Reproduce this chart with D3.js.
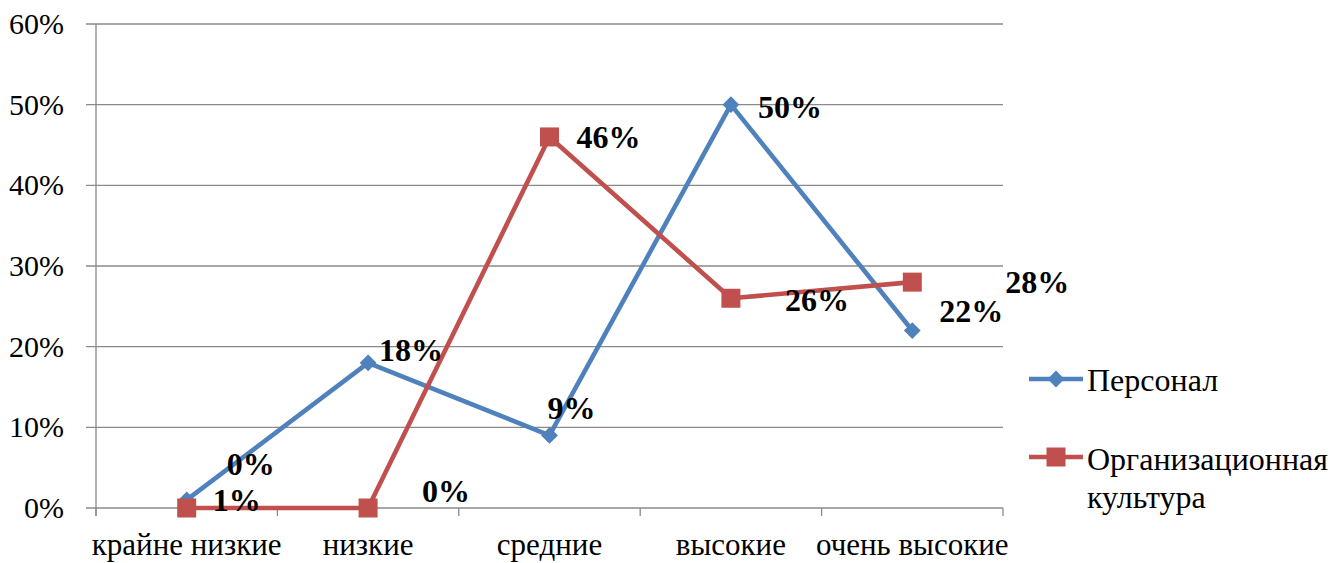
<!DOCTYPE html>
<html>
<head>
<meta charset="utf-8">
<script src="https://cdn.jsdelivr.net/npm/d3@7"></script>
</head>
<body style="margin:0; background:#fff">
<svg id="chart" width="1333" height="563" style="display:block"></svg>
<script>
// Categories and series values (percent)
const categories = ["крайне низкие", "низкие", "средние", "высокие", "очень высокие"];
const personnel = [1, 18, 9, 50, 22];
const culture = [0, 0, 46, 26, 28];
const seriesNames = ["Персонал", "Организационная культура"];
const yTicks = [0, 10, 20, 30, 40, 50, 60];

// Label nudges (dx, dy in px) relative to each point
const personnelLabelOffsets = [[26, 0], [11, -13], [-2, -27], [27, 2], [27, -20]];
const cultureLabelOffsets = [[40, -44], [54, -17], [27, 0], [54, 2], [93, 0]];

const colors = ["#4F81BD", "#C0504D"];
const svg = d3.select("#chart");
const m = { left: 96, right: 1003, top: 24, bottom: 508 };

const x = d3.scaleBand().domain(categories).range([m.left, m.right]);
const y = d3.scaleLinear().domain([0, 60]).range([m.bottom, m.top]);
const cx = d => x(d) + x.bandwidth() / 2;

// Shared text helper: serif face, given size and weight
function label(sel, size, weight) {
  return sel.style("font-family", '"Liberation Serif"')
    .style("font-size", size + "px")
    .style("font-weight", weight || "normal")
    .attr("fill", "#000");
}

// Horizontal gridlines
svg.append("g").selectAll("line").data(yTicks).join("line")
  .attr("x1", m.left - 10).attr("x2", m.right)
  .attr("y1", d => y(d)).attr("y2", d => y(d))
  .attr("stroke", "#8a8a8a").attr("stroke-width", 1.3);

// Y axis line
svg.append("line").attr("x1", m.left).attr("x2", m.left)
  .attr("y1", m.top).attr("y2", m.bottom + 8)
  .attr("stroke", "#8a8a8a").attr("stroke-width", 1.3);

// Y tick labels
label(svg.append("g").selectAll("text").data(yTicks).join("text")
  .attr("x", 64).attr("y", d => y(d) + 10)
  .attr("text-anchor", "end"), 30)
  .text(d => d + "%");

// X category boundary ticks
const bounds = categories.map(c => x(c)).concat([m.right]);
svg.append("g").selectAll("line").data(bounds).join("line")
  .attr("x1", d => d).attr("x2", d => d)
  .attr("y1", m.bottom).attr("y2", m.bottom + 8)
  .attr("stroke", "#8a8a8a").attr("stroke-width", 1.3);

// X category labels
label(svg.append("g").selectAll("text").data(categories).join("text")
  .attr("x", d => cx(d)).attr("y", 555)
  .attr("text-anchor", "middle"), 31)
  .text(d => d);

const line = d3.line().x((d, i) => cx(categories[i])).y(d => y(d));

function drawSeries(values, color, marker) {
  const g = svg.append("g");
  g.append("path").datum(values).attr("d", line)
    .attr("fill", "none").attr("stroke", color).attr("stroke-width", 4.6)
    .attr("stroke-linejoin", "round");
  if (marker === "diamond") {
    g.selectAll("path.m").data(values).join("path").attr("class", "m")
      .attr("d", d3.symbol().type(d3.symbolDiamond2).size(180))
      .attr("transform", (d, i) => `translate(${cx(categories[i])},${y(d)})`)
      .attr("fill", color);
  } else {
    g.selectAll("rect.m").data(values).join("rect").attr("class", "m")
      .attr("x", (d, i) => cx(categories[i]) - 9.5).attr("y", d => y(d) - 9.5)
      .attr("width", 19).attr("height", 19).attr("fill", color);
  }
}

drawSeries(personnel, colors[0], "diamond");
drawSeries(culture, colors[1], "square");

// Data labels
function drawLabels(values, offsets) {
  label(svg.append("g").selectAll("text").data(values).join("text")
    .attr("x", (d, i) => cx(categories[i]) + offsets[i][0])
    .attr("y", (d, i) => y(d) + offsets[i][1] + 11), 32, "bold")
    .text(d => d + "%");
}
drawLabels(personnel, personnelLabelOffsets);
drawLabels(culture, cultureLabelOffsets);

// Legend
const legend = svg.append("g");
const ly = [379, 457];
legend.append("line").attr("x1", 1029).attr("x2", 1083).attr("y1", ly[0]).attr("y2", ly[0])
  .attr("stroke", colors[0]).attr("stroke-width", 4.6);
legend.append("path").attr("d", d3.symbol().type(d3.symbolDiamond2).size(180))
  .attr("transform", `translate(1056,${ly[0]})`).attr("fill", colors[0]);
label(legend.append("text").attr("x", 1087).attr("y", ly[0] + 12), 32).text(seriesNames[0]);

legend.append("line").attr("x1", 1029).attr("x2", 1083).attr("y1", ly[1]).attr("y2", ly[1])
  .attr("stroke", colors[1]).attr("stroke-width", 4.6);
legend.append("rect").attr("x", 1046.5).attr("y", ly[1] - 9.5).attr("width", 19).attr("height", 19)
  .attr("fill", colors[1]);
const words = seriesNames[1].split(" ");
label(legend.append("text").attr("x", 1087).attr("y", ly[1] + 13), 32).text(words[0]);
label(legend.append("text").attr("x", 1087).attr("y", ly[1] + 51), 32).text(words[1]);
</script>
</body>
</html>
